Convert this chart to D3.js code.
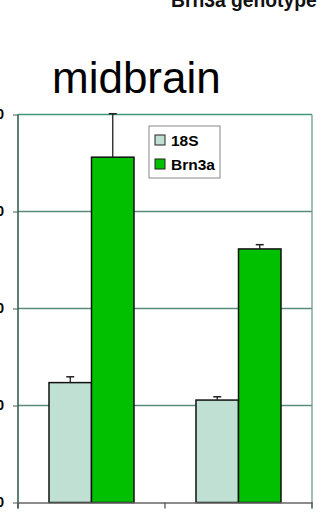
<html>
<script src="https://d3js.org/d3.v7.min.js"></script>
<style>
body { margin: 0; background: #fff; }
text { font-family: "Liberation Sans", Arial, sans-serif; }
</style>
<body>
<div id="chart"></div>
<script>
// data
var categories = ["+/+", "-/-"];
var series = ["18S", "Brn3a"];
var values18S = [61.8, 52.8];
var valuesBrn3a = [178, 130.7];
var err18S = [3, 1.7];
var errBrn3a = [22.4, 2.2];
var yTicks = [0, 50, 100, 150, 200];

var W = 328, H = 512;
var margin = { top: 114.5, left: 18, right: 16, bottom: 9.5 };

var svg = d3.select("#chart").append("svg")
  .attr("width", W).attr("height", H);

var x0 = d3.scaleBand().domain(categories).range([margin.left, W - margin.right]);
var x1 = d3.scaleBand().domain(series).range([31, x0.bandwidth() - 31]);
var y = d3.scaleLinear().domain([0, 200]).range([H - margin.bottom, margin.top]);

var color = d3.scaleOrdinal().domain(series).range(["#bfe0d3", "#00c000"]);

var rows = categories.map(function(c, i) {
  return [
    { cat: c, s: "18S", v: values18S[i], e: err18S[i] },
    { cat: c, s: "Brn3a", v: valuesBrn3a[i], e: errBrn3a[i] }
  ];
});

// gridlines
svg.append("g").selectAll("line")
  .data(yTicks.filter(function(d) { return d > 0; }))
  .enter().append("line")
  .attr("x1", margin.left).attr("x2", W - margin.right)
  .attr("y1", function(d) { return y(d); }).attr("y2", function(d) { return y(d); })
  .attr("stroke", function(d) { return d == 200 ? "#3f9a7c" : "#5b8a7c"; })
  .attr("stroke-width", 1.3);

// right border
svg.append("line")
  .attr("x1", W - margin.right).attr("x2", W - margin.right)
  .attr("y1", y(200)).attr("y2", y(0) + 6)
  .attr("stroke", "#6f9c92").attr("stroke-width", 1.3);

// bars
var groups = svg.append("g").selectAll("g")
  .data(rows).enter().append("g")
  .attr("transform", function(d) { return "translate(" + x0(d[0].cat) + ",0)"; });

groups.selectAll("rect")
  .data(function(d) { return d; })
  .enter().append("rect")
  .attr("x", function(d) { return x1(d.s); })
  .attr("y", function(d) { return y(d.v); })
  .attr("width", x1.bandwidth())
  .attr("height", function(d) { return y(0) - y(d.v); })
  .attr("fill", function(d) { return color(d.s); })
  .attr("stroke", "#111").attr("stroke-width", 1.5);

// error bars (upper half only, like excel)
var eb = groups.selectAll("g.err")
  .data(function(d) { return d; })
  .enter().append("g").attr("class", "err");
eb.append("line")
  .attr("x1", function(d) { return x1(d.s) + x1.bandwidth() / 2; })
  .attr("x2", function(d) { return x1(d.s) + x1.bandwidth() / 2; })
  .attr("y1", function(d) { return y(d.v); })
  .attr("y2", function(d) { return y(d.v + d.e); })
  .attr("stroke", "#222").attr("stroke-width", 1.3);
eb.append("line")
  .attr("x1", function(d) { return x1(d.s) + x1.bandwidth() / 2 - 4; })
  .attr("x2", function(d) { return x1(d.s) + x1.bandwidth() / 2 + 4; })
  .attr("y1", function(d) { return y(d.v + d.e); })
  .attr("y2", function(d) { return y(d.v + d.e); })
  .attr("stroke", "#222").attr("stroke-width", 1.5);

// y axis
var yaxis = d3.axisLeft(y).tickValues(yTicks).tickSize(5).tickPadding(9);
var ya = svg.append("g").attr("transform", "translate(" + margin.left + ",0)").call(yaxis);
ya.select(".domain").attr("stroke", "#24574b").attr("stroke-width", 1.5)
  .attr("d", "M0," + y(200) + "V" + (y(0) + 6));
ya.selectAll(".tick line").attr("stroke", "#555");
ya.selectAll(".tick text")
  .attr("font-size", 14).attr("font-weight", "bold").attr("fill", "#000")
  .attr("font-family", "Liberation Sans, Arial, sans-serif");

// x axis
var xaxis = d3.axisBottom(x0).tickSize(0).tickPadding(14);
var xa = svg.append("g").attr("transform", "translate(0," + y(0) + ")").call(xaxis);
xa.select(".domain").attr("stroke", "#666").attr("stroke-width", 1.5);
xa.selectAll(".tick text").attr("font-size", 14).attr("fill", "#000");
svg.append("g").selectAll("line")
  .data(d3.range(categories.length + 1))
  .enter().append("line")
  .attr("x1", function(i) { return margin.left + i * x0.bandwidth(); })
  .attr("x2", function(i) { return margin.left + i * x0.bandwidth(); })
  .attr("y1", y(0)).attr("y2", y(0) + 6)
  .attr("stroke", "#555").attr("stroke-width", 1.3);

// legend
var lg = svg.append("g").attr("transform", "translate(149,126)");
lg.append("rect").attr("width", 71).attr("height", 52)
  .attr("fill", "#fff").attr("stroke", "#888").attr("stroke-width", 1);
var li = lg.selectAll("g.item").data(series).enter().append("g")
  .attr("transform", function(d, i) { return "translate(6," + (9 + i * 24) + ")"; });
li.append("rect").attr("width", 10).attr("height", 10)
  .attr("fill", function(d) { return color(d); })
  .attr("stroke", "#222").attr("stroke-width", 1);
li.append("text").attr("x", 16).attr("y", 10.5)
  .attr("font-size", 15.5).attr("font-weight", "bold").text(function(d) { return d; });

// titles
svg.append("text").attr("x", 52).attr("y", 93)
  .attr("font-size", 44).text("midbrain");
svg.append("text").attr("x", 171).attr("y", 6.5)
  .attr("font-size", 19.3).attr("font-weight", "bold").attr("fill", "#111").text("Brn3a genotype");
</script>
</body>
</html>
